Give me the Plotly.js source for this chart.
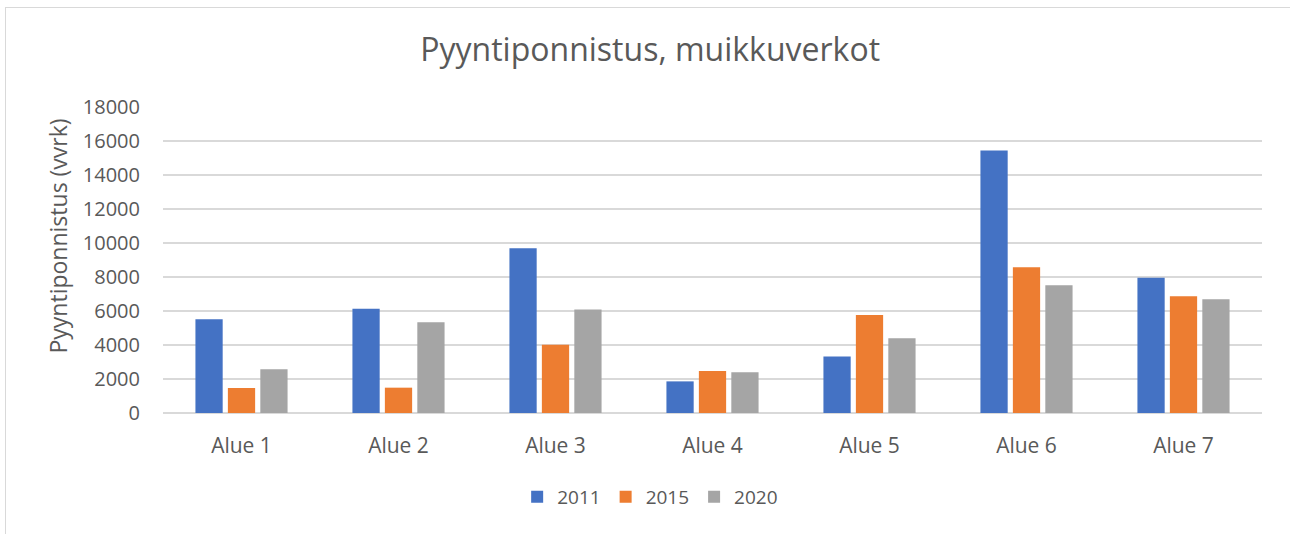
<!DOCTYPE html>
<html>
<head>
<meta charset="utf-8">
<script src="https://cdn.plot.ly/plotly-3.0.1.min.js"></script>
<style>
  html, body { margin: 0; padding: 0; background: #ffffff; }
  #frame { position: absolute; left: 5px; top: 7px; width: 1290px; height: 540px;
           border-top: 1.5px solid #d9d9d9; border-left: 1.5px solid #d9d9d9; }
  #chart { position: absolute; left: 0; top: 0; width: 1290px; height: 534px; }
</style>
</head>
<body>
<div id="frame"></div>
<div id="chart"></div>
<script>
const categories = ["Alue 1", "Alue 2", "Alue 3", "Alue 4", "Alue 5", "Alue 6", "Alue 7"];
const seriesNames = ["2011", "2015", "2020"];
const values2011 = [5520, 6130, 9690, 1860, 3330, 15440, 7960];
const values2015 = [1470, 1490, 4010, 2470, 5770, 8570, 6870];
const values2020 = [2580, 5340, 6090, 2390, 4400, 7510, 6690];
const yTickVals = [0, 2000, 4000, 6000, 8000, 10000, 12000, 14000, 16000, 18000];
const yTickText = ["0", "2000", "4000", "6000", "8000", "10000", "12000", "14000", "16000", "18000"];
const yTitle = "Pyyntiponnistus (vvrk)";

const colors = ["#4472C4", "#ED7D31", "#A5A5A5"];
const allValues = [values2011, values2015, values2020];
const FONT = "Open Sans, sans-serif";
const TXT = "#595959";

const traces = allValues.map((vals, i) => ({
  type: "bar",
  name: seriesNames[i],
  x: categories,
  y: vals,
  marker: { color: colors[i] },
  hoverinfo: "x+y+name"
}));

const layout = {
  width: 1290,
  height: 534,
  paper_bgcolor: "rgba(0,0,0,0)",
  plot_bgcolor: "rgba(0,0,0,0)",
  margin: { l: 163, r: 28, t: 107, b: 121 },
  barmode: "group",
  bargap: 0.38,
  bargroupgap: 0.16,
  title: {
    text: "Pyyntiponnistus, muikkuverkot",
    font: { family: FONT, size: 32, color: TXT },
    xref: "container", x: 0.504, xanchor: "center",
    yref: "container", y: 0.9065, yanchor: "middle"
  },
  xaxis: {
    type: "category",
    tickfont: { family: FONT, size: 21, color: TXT },
    showgrid: false,
    showline: false,
    ticks: "",
    ticklabelstandoff: 18
  },
  yaxis: {
    range: [0, 18000],
    tickvals: yTickVals,
    ticktext: yTickText,
    tickfont: { family: FONT, size: 20, color: TXT },
    showgrid: true,
    gridcolor: "#D9D9D9",
    gridwidth: 1.3,
    zeroline: true,
    zerolinecolor: "#D9D9D9",
    zerolinewidth: 1.3,
    showline: false,
    ticks: "",
    ticklabelstandoff: 22
  },
  annotations: [{
    text: yTitle,
    textangle: -90,
    xref: "paper", x: -0.0955, xanchor: "center",
    yref: "paper", y: 0.5768, yanchor: "middle",
    showarrow: false,
    font: { family: FONT, size: 23, color: TXT }
  }],
  legend: {
    orientation: "h",
    xref: "container", x: 0.504, xanchor: "center",
    yref: "container", y: 0.0693, yanchor: "middle",
    font: { family: FONT, size: 19, color: TXT },
    itemwidth: 30,
    traceorder: "normal"
  },
  showlegend: true
};

Plotly.newPlot("chart", traces, layout, { displayModeBar: false, staticPlot: true });
</script>
</body>
</html>
